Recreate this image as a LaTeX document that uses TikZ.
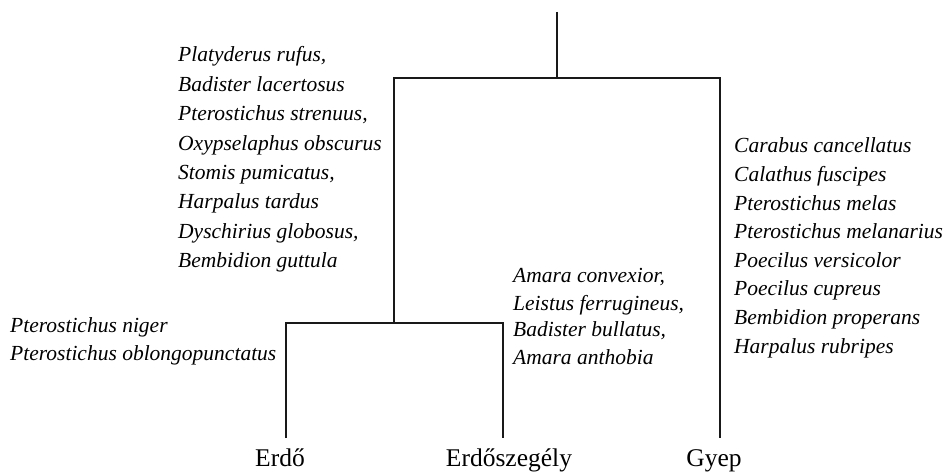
\documentclass[tikz,border=0pt]{standalone}
\usepackage{fontspec}
\setmainfont{Liberation Serif}
\usepackage{tikz}

\tikzset{
    species/.style={font=\itshape\fontsize{21.5}{29}\selectfont, inner sep=0pt, anchor=base west},
    site/.style={font=\fontsize{25.5}{30}\selectfont, inner sep=0pt, anchor=base},
    branch/.style={line width=1.6pt, color=black!90}
}

\begin{document}
\begin{tikzpicture}[x=1pt, y=-1pt]
    \useasboundingbox (0,0) rectangle (943,473);

    % Tree junctions
    \coordinate (top) at (557,12);
    \coordinate (root) at (557,78);
    \coordinate (sub) at (394,323);
    \coordinate (erdo end) at (286,438);
    \coordinate (szegely end) at (503,438);
    \coordinate (gyep end) at (720,438);

    % Draw the branches
    \draw[branch] (top) -- (root);
    \draw[branch] (sub) |- (root) -| (gyep end);
    \draw[branch] (erdo end) |- (sub) -| (szegely end);

    % Site names
    \node[site] (erdo) at (280,466) {Erdő};
    \node[site] (szegely) at (509,466) {Erdőszegély};
    \node[site] (gyep) at (714,466) {Gyep};

    % Species lists
    \foreach \name [count=\i from 0] in {{Platyderus rufus,}, Badister lacertosus, {Pterostichus strenuus,}, Oxypselaphus obscurus, {Stomis pumicatus,}, Harpalus tardus, {Dyschirius globosus,}, Bembidion guttula}
        \node[species] (common-\i) at (178, 62+29.4*\i) {\name};

    \foreach \name [count=\i from 0] in {Pterostichus niger, Pterostichus oblongopunctatus}
        \node[species] (forest-\i) at (10, 332+28*\i) {\name};

    \foreach \name [count=\i from 0] in {{Amara convexior,}, {Leistus ferrugineus,}, {Badister bullatus,}, Amara anthobia}
        \node[species] (edge-\i) at (513, 283+27*\i) {\name};

    \foreach \name [count=\i from 0] in {Carabus cancellatus, Calathus fuscipes, Pterostichus melas, Pterostichus melanarius, Poecilus versicolor, Poecilus cupreus, Bembidion properans, Harpalus rubripes}
        \node[species] (grass-\i) at (734, 153+28.6*\i) {\name};
\end{tikzpicture}
\end{document}
